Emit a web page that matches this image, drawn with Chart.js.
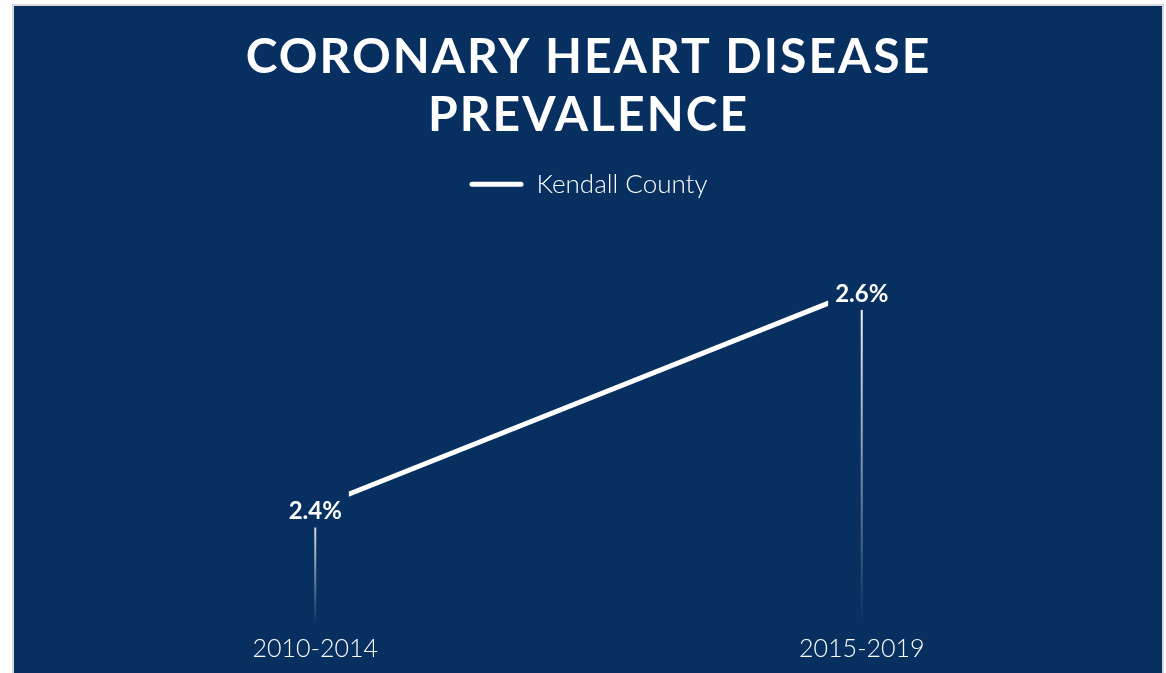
<!DOCTYPE html>
<html>
<head>
<meta charset="utf-8">
<script src="https://cdn.jsdelivr.net/npm/chart.js@4.4.1/dist/chart.umd.min.js"></script>
<style>
  html, body { margin: 0; padding: 0; background: #ffffff; }
  #frame {
    position: absolute; left: 12px; top: 4px;
    width: 1148px; height: 672px;
    border: 2px solid #d9d9d9; border-bottom: none;
    background: #072f5f;
  }
</style>
</head>
<body>
<div id="frame"><canvas id="chart"></canvas></div>
<script>
// chart data
const categories = ['2010-2014', '2015-2019'];
const prevalence = [2.4, 2.6];
const seriesName = 'Kendall County';
const titleLines = ['CORONARY HEART DISEASE', 'PREVALENCE'];

const navy = '#072f5f';

// title with wide letter spacing (Chart.js has no option for it)
const titleSpacing = {
    id: 'titleSpacing',
    beforeDraw(chart) {
        const tb = chart.titleBlock;
        if (tb && !tb._spaced) {
            const orig = tb.draw;
            tb.draw = function (...args) {
                this.ctx.save();
                this.ctx.letterSpacing = '2px';
                orig.apply(this, args);
                this.ctx.restore();
            };
            tb._spaced = true;
        }
    }
};

// fading drop lines and boxed value labels
const dropLines = {
    id: 'dropLines',
    afterDatasetsDraw(chart) {
        const ctx = chart.ctx;
        const area = chart.chartArea;
        const meta = chart.getDatasetMeta(0);
        meta.data.forEach((pt, i) => {
            ctx.save();
            const g = ctx.createLinearGradient(0, pt.y, 0, area.bottom);
            g.addColorStop(0, 'rgba(255,255,255,1)');
            g.addColorStop(1, 'rgba(255,255,255,0)');
            ctx.strokeStyle = g;
            ctx.lineWidth = 2;
            ctx.beginPath();
            ctx.moveTo(pt.x, pt.y);
            ctx.lineTo(pt.x, area.bottom);
            ctx.stroke();

            const text = prevalence[i].toFixed(1) + '%';
            ctx.font = 'bold 24px Lato';
            const w = ctx.measureText(text).width;
            ctx.fillStyle = navy;
            ctx.fillRect(pt.x - w / 2 - 7, pt.y - 16, w + 14, 36);
            ctx.fillStyle = '#ffffff';
            ctx.textAlign = 'center';
            ctx.textBaseline = 'middle';
            ctx.fillText(text, pt.x, pt.y + 4);
            ctx.restore();
        });
    }
};

const ctx = document.getElementById('chart').getContext('2d');

new Chart(ctx, {
    type: 'line',
    data: {
        labels: categories,
        datasets: [{
            label: seriesName,
            data: prevalence,
            borderColor: '#ffffff',
            backgroundColor: '#ffffff',
            borderWidth: 5,
            pointRadius: 0,
            tension: 0
        }]
    },
    options: {
        responsive: true,
        maintainAspectRatio: false,
        animation: false,
        layout: {
            padding: { left: 28, right: 27, top: 15, bottom: 5 }
        },
        plugins: {
            title: {
                display: true,
                text: titleLines,
                color: '#ffffff',
                font: { family: 'Lato', size: 48, weight: 'bold', lineHeight: 1.2 },
                padding: { top: 8, bottom: 17 }
            },
            legend: {
                display: true,
                labels: {
                    color: '#ffffff',
                    font: { family: 'Lato', size: 26, weight: '300' },
                    boxWidth: 54,
                    boxHeight: 5,
                    useBorderRadius: true,
                    borderRadius: 2.5,
                    generateLabels(chart) {
                        const items = Chart.defaults.plugins.legend.labels.generateLabels(chart);
                        items.forEach(it => { it.lineWidth = 0; it.fillStyle = '#ffffff'; });
                        return items;
                    }
                }
            },
            tooltip: { enabled: false }
        },
        scales: {
            x: {
                offset: true,
                grid: { display: false, drawTicks: false },
                border: { display: false },
                ticks: {
                    color: '#ffffff',
                    padding: 9,
                    font: { family: 'Lato', size: 25, weight: '300' }
                }
            },
            y: {
                display: false,
                min: 2.292,
                max: 2.676
            }
        }
    },
    plugins: [titleSpacing, dropLines]
});
</script>
</body>
</html>
